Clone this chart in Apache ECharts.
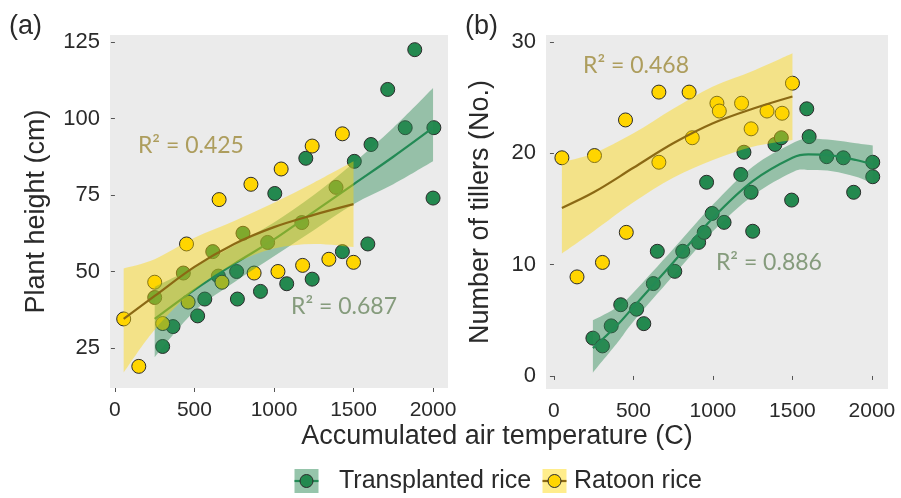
<!DOCTYPE html>
<html>
<head>
<meta charset="utf-8">
<script src="https://cdn.jsdelivr.net/npm/echarts@6/dist/echarts.min.js"></script>
<style>
  html, body { margin: 0; padding: 0; background: #ffffff; }
  #chart { width: 901px; height: 498px; }
</style>
</head>
<body>
<div id="chart"></div>
<script>
// ---- Panel (a): plant height (cm) vs accumulated air temperature ----
const heightTransplanted = [
  [250, 41.5], [300, 25.5], [365, 32], [430, 49.5], [520, 35.5], [565, 41],
  [615, 56.5], [650, 48.5], [765, 50], [770, 41], [805, 62.5], [915, 43.5],
  [960, 59.5], [1005, 75.5], [1080, 46], [1175, 66], [1200, 87], [1240, 47.5],
  [1390, 77.5], [1430, 56.5], [1505, 86], [1590, 59], [1610, 91.5], [1715, 109.5],
  [1825, 97], [1885, 122.5], [2000, 74], [2005, 97]
];
const heightRatoon = [
  [55, 34.5], [150, 19], [250, 46.5], [300, 33], [450, 59], [460, 40],
  [655, 73.5], [673, 46.5], [855, 78.5], [875, 49.5], [1025, 50], [1045, 83.5],
  [1180, 52], [1240, 91], [1345, 54], [1430, 95], [1500, 53]
];
// fitted curves with confidence band
const heightFitTX  = [250, 500, 750, 1000, 1250, 1500, 1750, 2000];
const heightFitTY  = [34.5, 44, 52.5, 60.5, 69.5, 78.5, 87.5, 97];
const heightFitTLo = [22, 37, 46.5, 55, 63.5, 72, 78.5, 86];
const heightFitTHi = [45, 51.5, 58.5, 66, 75, 85.5, 97, 110];

const heightFitRX  = [55, 250, 500, 750, 1000, 1250, 1500];
const heightFitRY  = [34.5, 42, 51.5, 59, 64.5, 68.5, 72];
const heightFitRLo = [17, 31, 44, 52.5, 57.5, 59, 58];
const heightFitRHi = [51, 54, 61, 66.5, 72.5, 79, 86];

// ---- Panel (b): number of tillers vs accumulated air temperature ----
const tillersTransplanted = [
  [245, 3.4], [305, 2.7], [360, 4.5], [420, 6.4], [520, 6.0], [565, 4.7],
  [625, 8.3], [650, 11.2], [760, 9.4], [810, 11.2], [910, 12.0], [945, 12.9],
  [960, 17.4], [995, 14.6], [1070, 13.8], [1175, 18.1], [1195, 20.1], [1240, 16.5],
  [1250, 13.0], [1390, 20.8], [1430, 21.4], [1495, 15.8], [1590, 24.0], [1605, 21.5],
  [1715, 19.7], [1820, 19.6], [1885, 16.5], [2005, 19.2], [2005, 17.9]
];
const tillersRatoon = [
  [50, 19.6], [145, 8.9], [255, 19.8], [305, 10.2], [450, 23], [455, 12.9],
  [660, 25.5], [660, 19.2], [850, 25.5], [870, 21.4], [1025, 24.5], [1040, 23.8],
  [1180, 24.5], [1240, 22.2], [1340, 23.8], [1435, 23.6], [1500, 26.3]
];
const tillersFitTX  = [245, 400, 500, 750, 1000, 1250, 1500, 1600, 1750, 1900, 2005];
const tillersFitTY  = [2.5, 4.6, 6.2, 10.2, 14.2, 17.5, 19.6, 19.9, 19.8, 19.4, 19.0];
const tillersFitTLo = [0.3, 3.0, 4.9, 9.0, 13.0, 16.2, 18.3, 18.5, 18.4, 17.9, 17.3];
const tillersFitTHi = [5.0, 6.2, 7.5, 11.4, 15.4, 18.8, 20.9, 21.3, 21.2, 20.9, 20.7];

const tillersFitRX  = [50, 250, 500, 750, 1000, 1250, 1500];
const tillersFitRY  = [15.1, 16.5, 18.7, 20.9, 22.7, 24.0, 25.1];
const tillersFitRLo = [11.0, 13.0, 15.6, 17.8, 19.4, 20.6, 21.2];
const tillersFitRHi = [19.2, 20.0, 21.8, 24.0, 26.0, 27.4, 29.0];

// axis ticks
const tempTicks = [0, 500, 1000, 1500, 2000];
const heightTicks = [25, 50, 75, 100, 125];
const tillerTicks = [0, 10, 20, 30];

// fit statistics
const r2Labels = [
  { panel: 0, text: 'R\u00b2 = 0.425', at: [478, 91.3], group: 'ratoon' },
  { panel: 0, text: 'R\u00b2 = 0.687', at: [1440, 38.4], group: 'transplanted' },
  { panel: 1, text: 'R\u00b2 = 0.468', at: [516, 27.9], group: 'ratoon' },
  { panel: 1, text: 'R\u00b2 = 0.886', at: [1352, 10.2], group: 'transplanted' }
];

const GREEN = '#23894f';
const GREEN_LINE = '#238a55';
const GREEN_BAND = 'rgba(46,139,87,0.45)';
const YELLOW = '#ffd500';
const YELLOW_LINE = '#8b6914';
const YELLOW_BAND = 'rgba(255,215,0,0.42)';
const PANEL_BG = '#ebebeb';
const TEXT = '#2a2a2a';
const SANS = '"Liberation Sans", Arial, sans-serif';

const chart = echarts.init(document.getElementById('chart'), null, { renderer: 'canvas' });

function zip(xs, ys) { return xs.map((x, i) => [x, ys[i]]); }

function pointSeries(name, data, fill, gi) {
  return {
    name, type: 'scatter', xAxisIndex: gi, yAxisIndex: gi, data,
    symbolSize: 14, z: 2, silent: true,
    itemStyle: { color: fill, borderColor: '#2b2b2b', borderWidth: 1, opacity: 1 }
  };
}

// Catmull-Rom segments through pixel points, as SVG path commands
function splineCommands(pts) {
  let d = '';
  for (let i = 0; i < pts.length - 1; i++) {
    const p0 = pts[Math.max(i - 1, 0)], p1 = pts[i], p2 = pts[i + 1], p3 = pts[Math.min(i + 2, pts.length - 1)];
    const c1x = p1[0] + (p2[0] - p0[0]) / 6, c1y = p1[1] + (p2[1] - p0[1]) / 6;
    const c2x = p2[0] - (p3[0] - p1[0]) / 6, c2y = p2[1] - (p3[1] - p1[1]) / 6;
    d += ' C' + c1x + ' ' + c1y + ' ' + c2x + ' ' + c2y + ' ' + p2[0] + ' ' + p2[1];
  }
  return d;
}

// confidence ribbon as one filled shape through the axis scales
function bandSeries(xs, lo, hi, color, gi, z) {
  return {
    type: 'custom', xAxisIndex: gi, yAxisIndex: gi, z, silent: true,
    data: xs.map((x, i) => [x, lo[i], hi[i]]),
    encode: { x: 0, y: [1, 2] },
    renderItem(params, api) {
      if (params.dataIndex !== 0) return null;
      const top = xs.map((x, i) => api.coord([x, hi[i]]));
      const bot = xs.map((x, i) => api.coord([x, lo[i]])).reverse();
      const d = 'M' + top[0][0] + ' ' + top[0][1] + splineCommands(top) +
        ' L' + bot[0][0] + ' ' + bot[0][1] + splineCommands(bot) + ' Z';
      return { type: 'path', shape: { pathData: d }, style: { fill: color, stroke: null } };
    }
  };
}

function fitLine(xs, ys, color, gi, z) {
  return {
    type: 'line', xAxisIndex: gi, yAxisIndex: gi, z, silent: true,
    data: zip(xs, ys), smooth: 0.35, symbol: 'none',
    lineStyle: { color, width: 2.2 }
  };
}

const plain = v => String(v);

function xAxisFor(gi, min, max) {
  return {
    type: 'value', gridIndex: gi, min, max,
    axisLine: { show: false },
    axisTick: { show: true, length: 4, lineStyle: { color: '#555', width: 1 }, customValues: tempTicks },
    axisLabel: { color: TEXT, fontSize: 21, fontFamily: SANS, margin: 12, customValues: tempTicks, formatter: plain },
    splitLine: { show: false }
  };
}

function yAxisFor(gi, min, max, ticks, name, gap) {
  return {
    type: 'value', gridIndex: gi, min, max,
    name, nameLocation: 'middle', nameRotate: 90, nameGap: gap,
    nameTextStyle: { color: TEXT, fontSize: 27, fontFamily: SANS },
    axisLine: { show: false },
    axisTick: { show: true, length: 4, lineStyle: { color: '#555', width: 1 }, customValues: ticks },
    axisLabel: { color: TEXT, fontSize: 22, fontFamily: SANS, margin: 10, customValues: ticks, formatter: plain },
    splitLine: { show: false }
  };
}

const annotationSeries = [0, 1].map(gi => ({
  type: 'scatter', xAxisIndex: gi, yAxisIndex: gi, z: 10, silent: true,
  symbolSize: 0,
  data: r2Labels.filter(l => l.panel === gi).map(l => ({
    value: l.at,
    label: {
      show: true, position: 'inside', formatter: l.text,
      color: l.group === 'ratoon' ? '#9d8a3a' : '#6c8760',
      fontSize: 23, fontFamily: 'Lato, "Open Sans", sans-serif'
    }
  }))
}));

const series = [
  pointSeries('Transplanted rice', heightTransplanted, GREEN, 0),
  pointSeries('Ratoon rice', heightRatoon, YELLOW, 0),
  bandSeries(heightFitTX, heightFitTLo, heightFitTHi, GREEN_BAND, 0, 3),
  fitLine(heightFitTX, heightFitTY, GREEN_LINE, 0, 4),
  bandSeries(heightFitRX, heightFitRLo, heightFitRHi, YELLOW_BAND, 0, 5),
  fitLine(heightFitRX, heightFitRY, YELLOW_LINE, 0, 6),

  pointSeries('Transplanted rice', tillersTransplanted, GREEN, 1),
  pointSeries('Ratoon rice', tillersRatoon, YELLOW, 1),
  bandSeries(tillersFitTX, tillersFitTLo, tillersFitTHi, GREEN_BAND, 1, 3),
  fitLine(tillersFitTX, tillersFitTY, GREEN_LINE, 1, 4),
  bandSeries(tillersFitRX, tillersFitRLo, tillersFitRHi, YELLOW_BAND, 1, 5),
  fitLine(tillersFitRX, tillersFitRY, YELLOW_LINE, 1, 6),
  ...annotationSeries
];

// legend keys drawn as ggplot-style swatches
function legendKey(cx, cy, band, line, fill) {
  return [
    { type: 'rect', shape: { x: cx - 12, y: cy - 12, width: 24, height: 24 }, style: { fill: band } },
    { type: 'line', shape: { x1: cx - 12, y1: cy, x2: cx + 12, y2: cy }, style: { stroke: line, lineWidth: 2.2 } },
    { type: 'circle', shape: { cx, cy, r: 6.5 }, style: { fill, stroke: '#2b2b2b', lineWidth: 1 } }
  ];
}

const option = {
  animation: false,
  backgroundColor: '#ffffff',
  grid: [
    { left: 110, top: 35, width: 338, height: 353, show: true, backgroundColor: PANEL_BG, borderWidth: 0 },
    { left: 546, top: 35, width: 342, height: 354, show: true, backgroundColor: PANEL_BG, borderWidth: 0 }
  ],
  xAxis: [xAxisFor(0, -31, 2094), xAxisFor(1, -50, 2101)],
  yAxis: [
    yAxisFor(0, 11.93, 127.29, heightTicks, 'Plant height (cm)', 60),
    yAxisFor(1, -1.17, 30.63, tillerTicks, 'Number of tillers (No.)', 52)
  ],
  series,
  graphic: [
    { type: 'text', left: 9, top: 13, style: { text: '(a)', fill: TEXT, font: '27px ' + SANS } },
    { type: 'text', left: 465, top: 13, style: { text: '(b)', fill: TEXT, font: '27px ' + SANS } },
    { type: 'text', x: 497, y: 437, style: { text: 'Accumulated air temperature (C)', fill: TEXT, font: '27px ' + SANS, align: 'center', verticalAlign: 'middle' } },
    ...legendKey(306.5, 481, 'rgba(46,139,87,0.5)', GREEN_LINE, GREEN),
    { type: 'text', x: 339, y: 481, style: { text: 'Transplanted rice', fill: TEXT, font: '25px ' + SANS, verticalAlign: 'middle' } },
    ...legendKey(554.5, 481, 'rgba(255,215,0,0.45)', YELLOW_LINE, YELLOW),
    { type: 'text', x: 574, y: 481, style: { text: 'Ratoon rice', fill: TEXT, font: '25px ' + SANS, verticalAlign: 'middle' } }
  ]
};

chart.setOption(option);
</script>
</body>
</html>
